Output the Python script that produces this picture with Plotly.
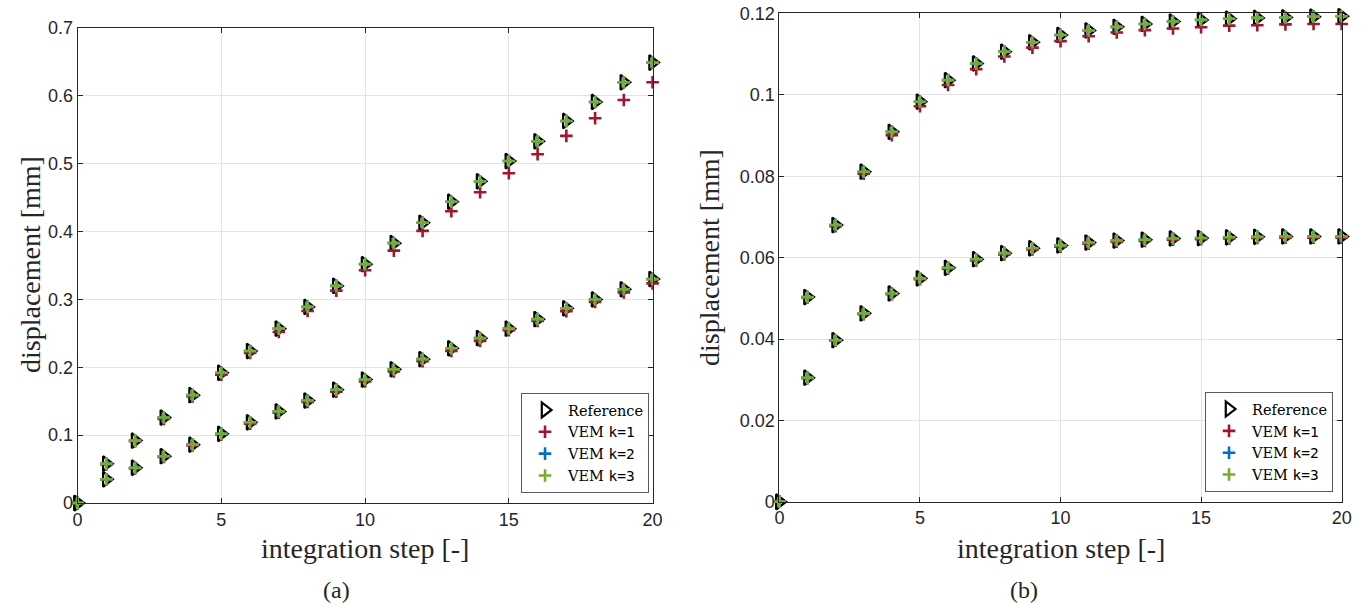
import plotly.graph_objects as go

# integration steps
steps = list(range(21))

# (a) displacement [mm], upper and lower curves
a_up_ref = [0, 0.058, 0.092, 0.126, 0.159, 0.192, 0.224, 0.257, 0.289, 0.320, 0.352,
            0.383, 0.413, 0.444, 0.474, 0.504, 0.533, 0.563, 0.591, 0.620, 0.649]
a_up_k1 = [0, 0.057, 0.091, 0.124, 0.157, 0.189, 0.221, 0.252, 0.283, 0.313, 0.343,
           0.372, 0.401, 0.430, 0.458, 0.486, 0.514, 0.541, 0.567, 0.594, 0.620]
a_up_k2 = [0, 0.058, 0.092, 0.126, 0.159, 0.192, 0.224, 0.257, 0.289, 0.320, 0.352,
           0.383, 0.413, 0.444, 0.474, 0.504, 0.533, 0.563, 0.591, 0.620, 0.649]
a_up_k3 = [0, 0.058, 0.092, 0.126, 0.159, 0.192, 0.224, 0.257, 0.289, 0.320, 0.352,
           0.383, 0.413, 0.444, 0.474, 0.504, 0.533, 0.563, 0.591, 0.620, 0.649]
a_lo_ref = [0, 0.035, 0.052, 0.069, 0.086, 0.102, 0.119, 0.135, 0.151, 0.167, 0.182,
            0.197, 0.212, 0.228, 0.243, 0.257, 0.271, 0.287, 0.300, 0.315, 0.330]
a_lo_k1 = [0, 0.035, 0.051, 0.068, 0.085, 0.101, 0.117, 0.133, 0.149, 0.164, 0.179,
           0.194, 0.209, 0.224, 0.239, 0.2546, 0.2685, 0.2827, 0.2965, 0.3104, 0.3237]
a_lo_k2 = [0, 0.035, 0.052, 0.069, 0.086, 0.102, 0.119, 0.135, 0.151, 0.167, 0.182,
           0.197, 0.212, 0.228, 0.243, 0.257, 0.271, 0.287, 0.300, 0.315, 0.330]
a_lo_k3 = [0, 0.035, 0.052, 0.069, 0.086, 0.102, 0.119, 0.135, 0.151, 0.167, 0.182,
           0.197, 0.212, 0.228, 0.243, 0.257, 0.271, 0.287, 0.300, 0.315, 0.330]

# (b) displacement [mm], upper and lower curves
b_up_ref = [0, 0.0503, 0.0680, 0.0811, 0.0909, 0.0983, 0.1036, 0.1077, 0.1106, 0.1129, 0.1147,
            0.1158, 0.1167, 0.1174, 0.1180, 0.1184, 0.1187, 0.1189, 0.1190, 0.1192, 0.1193]
b_up_k1 = [0, 0.0502, 0.0677, 0.0806, 0.0901, 0.0972, 0.1024, 0.1063, 0.1094, 0.1116, 0.1132,
           0.1144, 0.1153, 0.1159, 0.1163, 0.1166, 0.1170, 0.1171, 0.1173, 0.1174, 0.1174]
b_up_k2 = [0, 0.0503, 0.0680, 0.0811, 0.0909, 0.0983, 0.1036, 0.1077, 0.1106, 0.1129, 0.1147,
           0.1158, 0.1167, 0.1174, 0.1180, 0.1184, 0.1187, 0.1189, 0.1190, 0.1192, 0.1193]
b_up_k3 = [0, 0.0503, 0.0680, 0.0811, 0.0909, 0.0983, 0.1036, 0.1077, 0.1106, 0.1129, 0.1147,
           0.1158, 0.1167, 0.1174, 0.1180, 0.1184, 0.1187, 0.1189, 0.1190, 0.1192, 0.1193]
b_lo_ref = [0, 0.0305, 0.0397, 0.0463, 0.0512, 0.0549, 0.0575, 0.0596, 0.0611, 0.0623, 0.0630,
            0.0637, 0.0642, 0.0644, 0.0647, 0.0648, 0.0650, 0.0651, 0.0652, 0.0652, 0.0652]
b_lo_k1 = [0, 0.0304, 0.0396, 0.0461, 0.0510, 0.0547, 0.0573, 0.0593, 0.0608, 0.0620, 0.0627,
           0.0634, 0.0639, 0.0641, 0.0644, 0.0645, 0.0647, 0.0648, 0.0649, 0.0649, 0.0649]
b_lo_k2 = [0, 0.0305, 0.0397, 0.0463, 0.0512, 0.0549, 0.0575, 0.0596, 0.0611, 0.0623, 0.0630,
           0.0637, 0.0642, 0.0644, 0.0647, 0.0648, 0.0650, 0.0651, 0.0652, 0.0652, 0.0652]
b_lo_k3 = [0, 0.0305, 0.0397, 0.0463, 0.0512, 0.0549, 0.0575, 0.0596, 0.0611, 0.0623, 0.0630,
           0.0637, 0.0642, 0.0644, 0.0647, 0.0648, 0.0650, 0.0651, 0.0652, 0.0652, 0.0652]

series_names = ["Reference", "VEM k=1", "VEM k=2", "VEM k=3"]
MONO = "DejaVu Sans Mono, Liberation Mono, monospace"
legend_labels = ["Reference",
                 f"VEM <span style='font-family:{MONO}'>k=1</span>",
                 f"VEM <span style='font-family:{MONO}'>k=2</span>",
                 f"VEM <span style='font-family:{MONO}'>k=3</span>"]
colors = ["#000000", "#A2142F", "#0072BD", "#77AC30"]

SERIF = "Liberation Serif, Times New Roman, serif"
LEGEND_SERIF = "DejaVu Serif, Liberation Serif, serif"
SANS = "Liberation Sans Narrow, Arial Narrow, Liberation Sans, Arial, sans-serif"

panels = [
    ("x", "y", "legend", [(a_up_ref, a_lo_ref), (a_up_k1, a_lo_k1), (a_up_k2, a_lo_k2), (a_up_k3, a_lo_k3)]),
    ("x2", "y2", "legend2", [(b_up_ref, b_lo_ref), (b_up_k1, b_lo_k1), (b_up_k2, b_lo_k2), (b_up_k3, b_lo_k3)]),
]

fig = go.Figure()
for xa, ya, leg, data in panels:
    for i, (up, lo) in enumerate(data):
        xs = steps + [None] + steps
        ys = up + [None] + lo
        if i == 0:
            marker = dict(symbol="triangle-right-open", size=13, color=colors[i],
                          line=dict(color=colors[i], width=2.2))
        else:
            marker = dict(symbol="cross-thin", size=9, color=colors[i],
                          line=dict(color=colors[i], width=2.6))
        fig.add_trace(go.Scatter(
            x=xs, y=ys, mode="markers", marker=marker, name=legend_labels[i],
            xaxis=xa, yaxis=ya, legend=leg, cliponaxis=False,
            hovertemplate=series_names[i] + ": %{y}<extra></extra>",
        ))

axis_common = dict(
    showline=True, linecolor="#262626", linewidth=1, mirror="ticks",
    ticks="inside", ticklen=5, tickcolor="#262626", tickwidth=1,
    showgrid=True, gridcolor="#e3e3e3", gridwidth=1, zeroline=False,
    tickfont=dict(family=SANS, size=18, color="#262626"),
)

legend_common = dict(
    font=dict(family=LEGEND_SERIF, size=14.5, color="#000000"),
    bgcolor="#ffffff", bordercolor="#5a5a5a", borderwidth=1,
    xanchor="right", yanchor="bottom", tracegroupgap=0, itemwidth=36,
)

fig.update_layout(
    width=1371, height=609,
    margin=dict(l=0, r=0, t=0, b=0, autoexpand=False),
    paper_bgcolor="#ffffff", plot_bgcolor="#ffffff",
    xaxis=dict(domain=[0.0566, 0.476], range=[0, 20], tickvals=[0, 5, 10, 15, 20], anchor="y", **axis_common),
    yaxis=dict(domain=[0.174, 0.954], range=[0, 0.7], tickvals=[0, 0.1, 0.2, 0.3, 0.4, 0.5, 0.6, 0.7],
               anchor="x", **axis_common),
    xaxis2=dict(domain=[0.5685, 0.9786], range=[0, 20], tickvals=[0, 5, 10, 15, 20], anchor="y2", **axis_common),
    yaxis2=dict(domain=[0.176, 0.978], range=[0, 0.12], tickvals=[0, 0.02, 0.04, 0.06, 0.08, 0.1, 0.12],
                anchor="x2", **axis_common),
    legend=dict(x=0.4734, y=0.1905, **legend_common),
    legend2=dict(x=0.9723, y=0.192, **legend_common),
    showlegend=True,
)

title_font = dict(family=SERIF, size=28, color="#262626")
annotations = [
    dict(text="integration step [-]", x=(0.0566 + 0.476) / 2, y=1 - 548 / 609),
    dict(text="integration step [-]", x=(0.5685 + 0.9786) / 2, y=1 - 548 / 609),
    dict(text="displacement [mm]", x=30 / 1371, y=1 - 265 / 609, textangle=-90),
    dict(text="displacement [mm]", x=710 / 1371, y=1 - 258 / 609, textangle=-90),
]
for a in annotations:
    fig.add_annotation(xref="paper", yref="paper", showarrow=False, font=title_font,
                       xanchor="center", yanchor="middle", **a)

for label, cx in [("(a)", 336 / 1371), ("(b)", 1024 / 1371)]:
    fig.add_annotation(text=label, xref="paper", yref="paper", x=cx, y=1 - 590 / 609,
                       showarrow=False, xanchor="center", yanchor="middle",
                       font=dict(family=SERIF, size=24, color="#262626"))

fig.write_html("out.html")
